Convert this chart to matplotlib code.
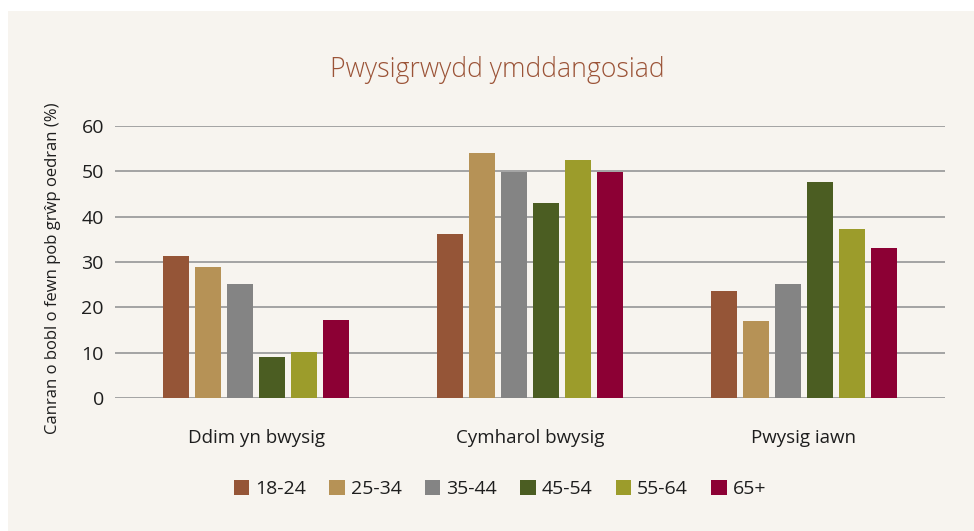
import numpy as np
import matplotlib
matplotlib.use("Agg")
import matplotlib.pyplot as plt
from matplotlib.patches import Rectangle, Patch

# data
categories = ["Ddim yn bwysig", "Cymharol bwysig", "Pwysig iawn"]
age_groups = ["18-24", "25-34", "35-44", "45-54", "55-64", "65+"]
values = {
    "18-24": [31.4, 36.2, 23.6],
    "25-34": [28.8, 54.1, 17.0],
    "35-44": [25.2, 49.9, 25.1],
    "45-54": [9.1, 43.0, 47.6],
    "55-64": [10.2, 52.5, 37.3],
    "65+":   [17.1, 49.9, 33.1],
}
colors = ["#955537", "#B69256", "#848484", "#4B5D22", "#9C9C2B", "#8C0034"]
yticks = [0, 10, 20, 30, 40, 50, 60]

title = "Pwysigrwydd ymddangosiad"
ylabel = "Canran o bobl o fewn pob grŵp oedran (%)"

BG = "#F7F4EF"
TXT = "#1E1E1E"
plt.rcParams['font.family'] = ['Open Sans', 'DejaVu Sans']

fig = plt.figure(figsize=(9.74, 5.31), dpi=100)
fig.patch.set_facecolor("white")
fig.add_artist(Rectangle((8 / 974, 0), 1, 1 - 11 / 531, transform=fig.transFigure,
                         facecolor=BG, edgecolor="none", zorder=-10))

ax = fig.add_axes([115 / 974, 1 - 398 / 531, 830 / 974, 272 / 531])
ax.set_facecolor("none")

x = np.arange(len(categories))
step = 0.117
width = 0.095
for i, grp in enumerate(age_groups):
    ax.bar(x + (i - 2.5) * step, values[grp], width, color=colors[i], label=grp, zorder=3)

ax.set_ylim(0, 60)
ax.set_xlim(-0.515, 2.515)
ax.set_yticks(yticks)
ax.yaxis.grid(True, color="#A3A3A3", linewidth=1.4, zorder=0)
ax.set_axisbelow(True)
for s in ax.spines.values():
    s.set_visible(False)
ax.tick_params(axis="y", length=0, pad=8, labelsize=14, labelcolor=TXT)
ax.tick_params(axis="x", length=0, pad=22, labelsize=13.5, labelcolor=TXT)
ax.set_xticks(x)
ax.set_xticklabels(categories)

fig.text(497 / 974, 1 - 70 / 531, title, ha="center", va="center",
         fontsize=19.2, color="#9B5337", fontweight="light")
fig.text(53 / 974, 1 - 268 / 531, ylabel, rotation=90, ha="center", va="center",
         fontsize=12, color=TXT)

handles = [Patch(facecolor=c, edgecolor="none") for c in colors]
leg = fig.legend(handles, age_groups, loc="center", bbox_to_anchor=(500 / 974, 1 - 489 / 531),
                 ncol=6, frameon=False, fontsize=14, handlelength=0.8, handleheight=0.8,
                 handletextpad=0.3, columnspacing=1.2)
for t in leg.get_texts():
    t.set_color(TXT)

fig.savefig("out.png", dpi=100, facecolor=fig.get_facecolor())
